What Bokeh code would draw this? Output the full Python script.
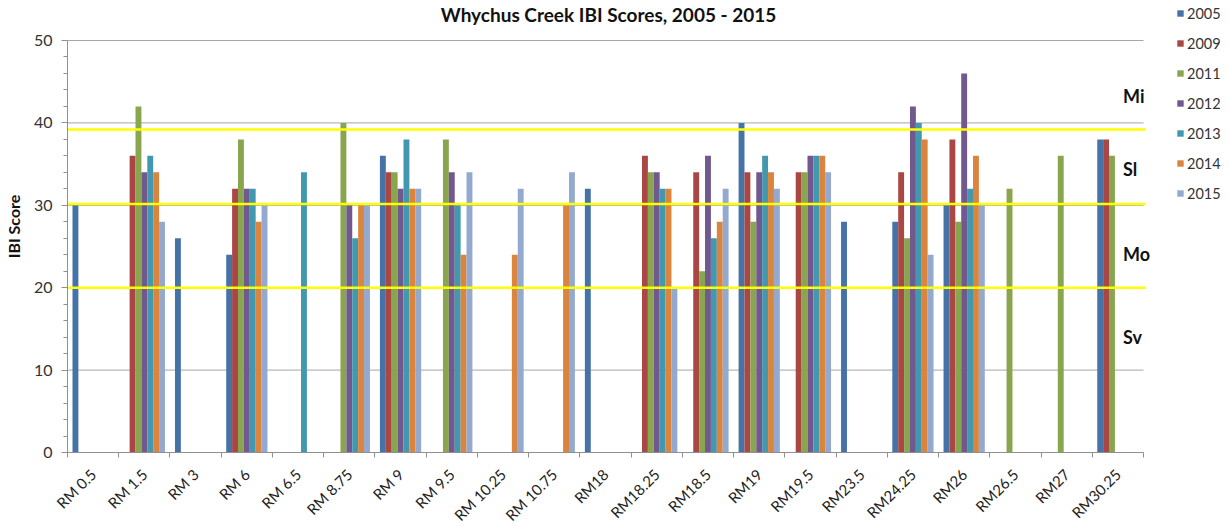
from bokeh.plotting import figure
from bokeh.models import (ColumnDataSource, FixedTicker, SingleIntervalTicker, Label,
                          Legend, LegendItem, Range1d)
from bokeh.embed import file_html
from bokeh.resources import INLINE
import math

categories = ["RM 0.5", "RM 1.5", "RM 3", "RM 6", "RM 6.5", "RM 8.75", "RM 9", "RM 9.5",
              "RM 10.25", "RM 10.75", "RM18", "RM18.25", "RM18.5", "RM19", "RM19.5",
              "RM23.5", "RM24.25", "RM26", "RM26.5", "RM27", "RM30.25"]

years = ["2005", "2009", "2011", "2012", "2013", "2014", "2015"]

s2005 = [30, None, 26, 24, None, None, 36, None, None, None, 32, None, None, 40, None, 28, 28, 30, None, None, 38]
s2009 = [None, 36, None, 32, None, None, 34, None, None, None, None, 36, 34, 34, 34, None, 34, 38, None, None, 38]
s2011 = [None, 42, None, 38, None, 40, 34, 38, None, None, None, 34, 22, 28, 34, None, 26, 28, 32, 36, 36]
s2012 = [None, 34, None, 32, None, 30, 32, 34, None, None, None, 34, 36, 34, 36, None, 42, 46, None, None, None]
s2013 = [None, 36, None, 32, 34, 26, 38, 30, None, None, None, 32, 26, 36, 36, None, 40, 32, None, None, None]
s2014 = [None, 34, None, 28, None, 30, 32, 24, 24, 30, None, 32, 28, 34, 36, None, 38, 36, None, None, None]
s2015 = [None, 28, None, 30, None, 30, 32, 34, 32, 34, None, 20, 32, 32, 34, None, 24, 30, None, None, None]

series = [s2005, s2009, s2011, s2012, s2013, s2014, s2015]
colors = ["#4572A7", "#AA4643", "#89A54E", "#71588F", "#4198AF", "#DB843D", "#93A9CF"]

grid_levels = [10, 20, 30, 40, 50]
threshold_levels = [20, 30.15, 39.2]
class_labels = ["Mi", "Sl", "Mo", "Sv"]
class_label_y = [43.3, 34.4, 24.1, 14.0]
title_text = "Whychus Creek IBI Scores, 2005 - 2015"

FONT = "Lato"
n = len(categories)
bar_w = 0.115
group_start = 0.0975

# axis area: 21 categories over 1076 px, 0..50 over 412 px; frame extended to hold title/legend
FW, FH = 1154, 452
x_end = n * FW / 1076.0
y_end = 50 * FH / 412.0

p = figure(output_backend="svg", toolbar_location=None,
           frame_width=FW, frame_height=FH,
           min_border_left=59, min_border_right=0, min_border_top=0, min_border_bottom=63,
           x_range=Range1d(0, x_end), y_range=Range1d(0, y_end))
p.outline_line_color = None
p.background_fill_color = "white"
p.border_fill_color = "white"
p.xgrid.visible = False
p.ygrid.visible = False

# gray gridlines within the axis area
p.segment(x0=[0] * len(grid_levels), x1=[n] * len(grid_levels), y0=grid_levels, y1=grid_levels,
          line_color="#A6A6A6", line_width=1)

# bars
renderers = []
for k, (yr, vals, col) in enumerate(zip(years, series, colors)):
    xs = [i + group_start + (k + 0.5) * bar_w for i, v in enumerate(vals) if v is not None]
    ys = [v for v in vals if v is not None]
    src = ColumnDataSource(dict(x=xs, top=ys))
    r = p.vbar(x="x", top="top", bottom=0, width=bar_w, source=src,
               fill_color=col, line_color=None)
    renderers.append(r)

# yellow threshold lines
p.segment(x0=[0] * len(threshold_levels), x1=[n + 0.04] * len(threshold_levels),
          y0=threshold_levels, y1=threshold_levels, line_color="#FFFF00", line_width=2.5)

# x axis
xa = p.xaxis[0]
xa.bounds = (0, n)
xa.ticker = FixedTicker(ticks=[i + 0.5 for i in range(n)], minor_ticks=list(range(n + 1)))
xa.major_label_overrides = {i + 0.5: c for i, c in enumerate(categories)}
xa.major_label_orientation = math.pi / 4
xa.major_tick_out = 0
xa.major_tick_in = 0
xa.minor_tick_out = 5
xa.minor_tick_in = 0
xa.minor_tick_line_color = "#909090"
xa.axis_line_color = "#909090"
xa.major_label_text_font = FONT
xa.major_label_text_font_size = "15px"
xa.major_label_text_color = "#222222"
xa.major_label_standoff = 14

# y axis
ya = p.yaxis[0]
ya.bounds = (0, 50)
ya.ticker = SingleIntervalTicker(interval=10, num_minor_ticks=5)
ya.major_tick_out = 6
ya.major_tick_in = 0
ya.minor_tick_out = 4
ya.minor_tick_in = 0
ya.major_tick_line_color = "#909090"
ya.minor_tick_line_color = "#909090"
ya.axis_line_color = "#909090"
ya.major_label_text_font = FONT
ya.major_label_text_font_size = "16px"
ya.major_label_text_color = "#333333"
ya.major_label_standoff = 9
ya.axis_label = "IBI Score"
ya.axis_label_text_font = FONT
ya.axis_label_text_font_size = "16px"
ya.axis_label_text_font_style = "bold"
ya.axis_label_text_color = "#111111"
ya.axis_label_standoff = 8

# title
p.add_layout(Label(x=10.56, y=53.1, text=title_text,
                   text_font=FONT, text_font_size="19px", text_font_style="bold",
                   text_align="center", text_baseline="alphabetic", text_color="#111111"))

# class labels at right
for lab, yv in zip(class_labels, class_label_y):
    p.add_layout(Label(x=20.6, y=yv, text=lab, text_font=FONT, text_font_size="18px",
                       text_font_style="bold", text_align="left", text_baseline="middle",
                       text_color="#111111"))

legend = Legend(items=[LegendItem(label=yr, renderers=[r]) for yr, r in zip(years, renderers)],
                location=(1109, 250), orientation="vertical",
                border_line_color=None, background_fill_alpha=0, padding=0, margin=0,
                spacing=12, glyph_width=8, glyph_height=8, label_height=18,
                label_standoff=3, label_text_font=FONT, label_text_font_size="14.5px",
                label_text_color="#333333")
p.add_layout(legend)

open("out.html", "w").write(file_html(p, INLINE))
